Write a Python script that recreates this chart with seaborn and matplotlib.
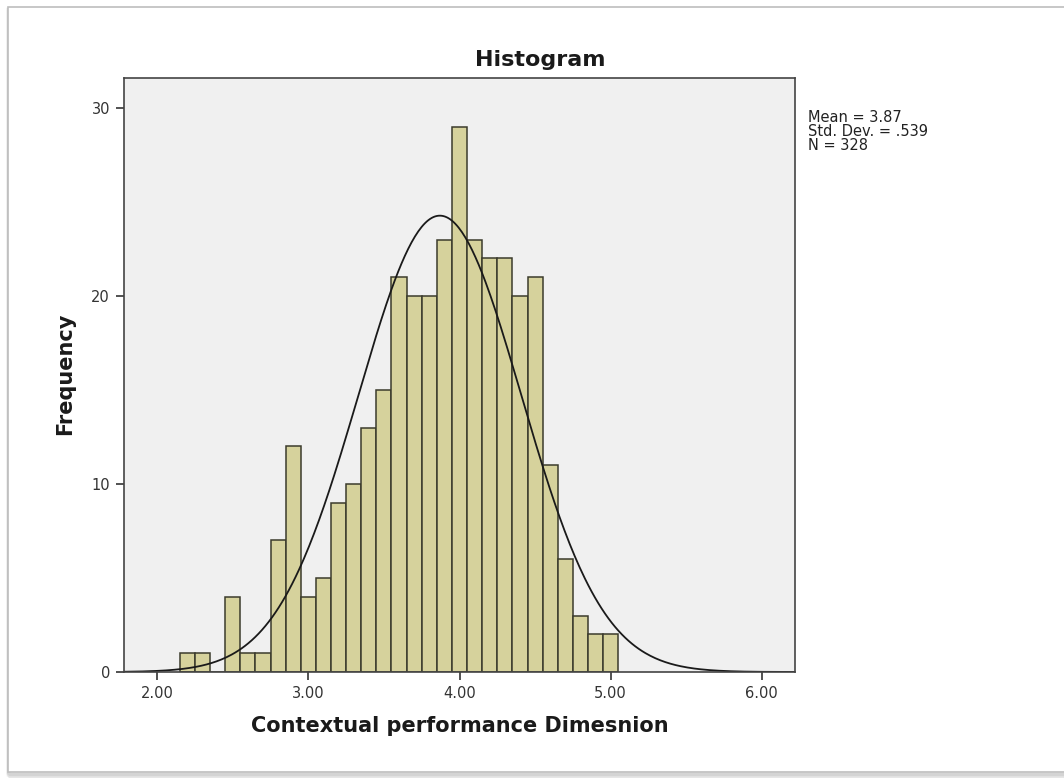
"""
SPSS-style histogram with a fitted normal curve.
"""

import numpy as np
import pandas as pd
import matplotlib.pyplot as plt
import seaborn as sns
from matplotlib.patches import Rectangle

sns.set_theme(style="white")
plt.rcParams["font.family"] = ["DejaVu Sans"]

# bin edges (width 0.1) and counts
bin_start = 2.15
bin_width = 0.1
counts = [1, 1, 0, 4, 1, 1, 7, 12, 4, 5,
          9, 10, 13, 15, 21, 20, 20, 23, 29, 23,
          22, 22, 20, 21, 11, 6, 3, 2, 2]
mean = 3.87
std_dev = 0.539
n_total = 328

x_ticks = [2.0, 3.0, 4.0, 5.0, 6.0]
x_tick_labels = ["2.00", "3.00", "4.00", "5.00", "6.00"]
y_ticks = [0, 10, 20, 30]

bin_end = bin_start + bin_width * len(counts)
mids = bin_start + bin_width * (np.arange(len(counts)) + 0.5)
df = pd.DataFrame({"value": mids, "count": counts})

fig = plt.figure(figsize=(10.64, 7.78), dpi=100)
fig.patch.set_facecolor("white")

# page frame with a soft shadow
for off, col in [(4, "#e6e6e6"), (2, "#d4d4d4")]:
    fig.patches.append(Rectangle((8 / 1064, (6 - off) / 778), 1.1, 765 / 778,
                                 transform=fig.transFigure, facecolor="none",
                                 edgecolor=col, linewidth=2.5, zorder=-2))
fig.patches.append(Rectangle((8 / 1064, 6 / 778), 1.1, 765 / 778,
                             transform=fig.transFigure, facecolor="white",
                             edgecolor="#bdbdbd", linewidth=1.2, zorder=-1))

ax = fig.add_axes([124 / 1064, 1 - 672 / 778, 671 / 1064, 594 / 778])
ax.set_zorder(2)
ax.set_facecolor("#f0f0f0")

sns.histplot(data=df, x="value", weights="count", binwidth=bin_width,
             binrange=(bin_start, bin_end), ax=ax,
             color="#d6d29c", edgecolor="#3b3b2c", linewidth=1.1, alpha=1)

xs = np.linspace(1.78, 6.22, 400)
curve = n_total * bin_width / (std_dev * np.sqrt(2 * np.pi)) * np.exp(-0.5 * ((xs - mean) / std_dev) ** 2)
sns.lineplot(x=xs, y=curve, ax=ax, color="#1a1a1a", linewidth=1.3)

ax.set_xlim(1.78, 6.22)
ax.set_ylim(0, 31.6)
ax.set_xticks(x_ticks)
ax.set_xticklabels(x_tick_labels)
ax.set_yticks(y_ticks)
ax.tick_params(axis="both", direction="out", length=6, width=1.2, color="#333333",
               labelsize=10.5, labelcolor="#333333", bottom=True, left=True, pad=4)
for side in ax.spines.values():
    side.set_color("#444444")
    side.set_linewidth(1.2)

ax.set_xlabel("")
ax.set_ylabel("")
fig.text(460 / 1064, 1 - 726 / 778, "Contextual performance Dimesnion",
         ha="center", va="center", fontsize=15, fontweight="bold", color="#1a1a1a")
fig.text(65 / 1064, 1 - 374 / 778, "Frequency", ha="center", va="center",
         rotation=90, fontsize=15, fontweight="bold", color="#1a1a1a")
fig.text(540 / 1064, 1 - 60 / 778, "Histogram", ha="center", va="center",
         fontsize=16, fontweight="bold", color="#1a1a1a")
fig.text(808 / 1064, 1 - 110 / 778,
         f"Mean = {mean:.2f}\nStd. Dev. = .539\nN = {n_total}",
         ha="left", va="top", fontsize=10.5, linespacing=0.9, color="#222222")

fig.savefig("out.png", dpi=100)
plt.close(fig)
print("Saved out.png")
